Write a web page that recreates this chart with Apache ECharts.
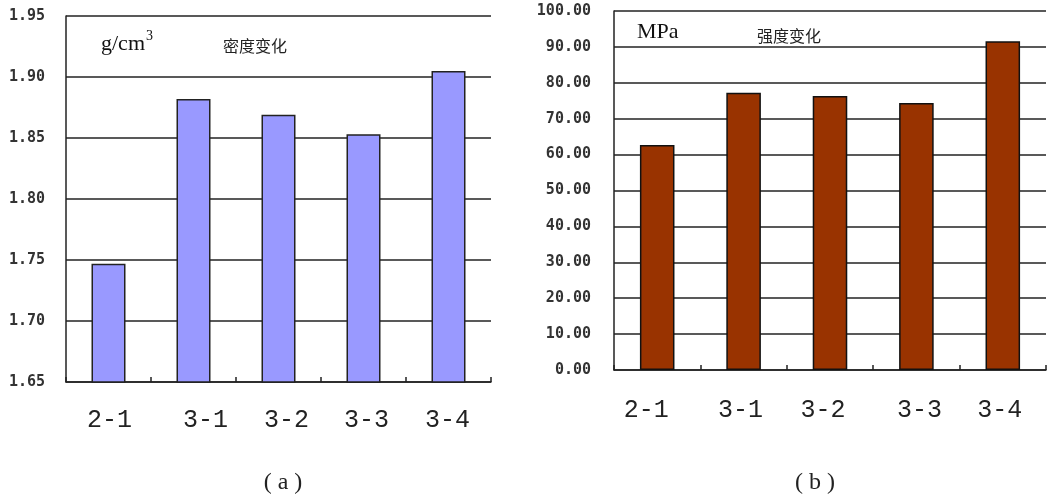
<!DOCTYPE html>
<html>
<head>
<meta charset="utf-8">
<script src="https://cdn.jsdelivr.net/npm/echarts@6/dist/echarts.min.js"></script>
<style>
  html, body { margin: 0; padding: 0; background: #fff; }
  #chart { width: 1051px; height: 497px; }
</style>
</head>
<body>
<div id="chart"></div>
<script>
// Sample groups shared by both panels
const categories = ['2-1', '3-1', '3-2', '3-3', '3-4'];

// (a) density, g/cm3
const densityValues = [1.747, 1.882, 1.869, 1.853, 1.905];
const densityTicks = { min: 1.65, max: 1.95, step: 0.05 };

// (b) compressive strength, MPa
const strengthValues = [62.7, 77.2, 76.3, 74.4, 91.6];
const strengthTicks = { min: 0, max: 100, step: 10 };

// Horizontal nudges (px) for the category labels of each panel
const labelShiftA = [1, 12, 8, 3, -1];
const labelShiftB = [-11, -3, -7, 3, -3];

function shiftedLabels(shifts) {
  const rich = {};
  shifts.forEach((s, i) => {
    rich['s' + i] = {
      fontFamily: '"Liberation Mono", "DejaVu Sans Mono", monospace',
      fontSize: 25,
      color: '#222',
      padding: s >= 0 ? [0, 0, 0, 2 * s] : [0, -2 * s, 0, 0]
    };
  });
  return {
    formatter: (v, idx) => '{s' + idx + '|' + v + '}',
    rich: rich
  };
}

const yLabelStyle = {
  fontFamily: '"DejaVu Sans Mono", "Liberation Mono", monospace',
  fontSize: 15,
  color: '#333',
  fontWeight: 'bold',
  padding: [3, 0, 0, 0]
};

const serif = '"Liberation Serif", "DejaVu Serif", serif';

const chart = echarts.init(document.getElementById('chart'), null, { renderer: 'canvas' });

const catAxis = (gridIndex, shifts, margin) => ({
  type: 'category',
  gridIndex: gridIndex,
  data: categories,
  axisLine: { show: true, lineStyle: { color: '#222', width: 1.5 } },
  axisTick: { show: true, inside: true, length: 5, lineStyle: { color: '#222', width: 1.5 } },
  splitLine: { show: false },
  axisLabel: Object.assign({ margin: margin, interval: 0 }, shiftedLabels(shifts))
});

const valAxis = (gridIndex, t, margin) => ({
  type: 'value',
  gridIndex: gridIndex,
  min: t.min,
  max: t.max,
  interval: t.step,
  axisLine: { show: true, lineStyle: { color: '#222', width: 1.5 } },
  axisTick: { show: false },
  splitLine: { show: true, lineStyle: { color: '#222', width: 1.5 } },
  axisLabel: Object.assign({ margin: margin, formatter: v => v.toFixed(2) }, yLabelStyle)
});

chart.setOption({
  animation: false,
  backgroundColor: '#ffffff',
  title: [
    {
      text: '{u|g/cm}{s|3}',
      left: 96, top: 24,
      textStyle: {
        fontWeight: 'normal',
        rich: {
          u: { fontFamily: serif, fontSize: 22, fontWeight: 'normal', color: '#111', verticalAlign: 'bottom' },
          s: { fontFamily: serif, fontSize: 14, fontWeight: 'normal', color: '#111', verticalAlign: 'top', padding: [0, 0, 12, 1] }
        }
      }
    },
    {
      text: '密度变化',
      left: 218, top: 33,
      textStyle: { fontFamily: '"Noto Sans CJK SC", sans-serif', fontSize: 16, fontWeight: 'normal', color: '#222' }
    },
    {
      text: 'MPa',
      left: 632, top: 16,
      textStyle: { fontFamily: serif, fontSize: 22, fontWeight: 'normal', color: '#111' }
    },
    {
      text: '强度变化',
      left: 752, top: 23,
      textStyle: { fontFamily: '"Noto Sans CJK SC", sans-serif', fontSize: 16, fontWeight: 'normal', color: '#222' }
    },
    {
      text: '( a )',
      left: 278, top: 466, textAlign: 'center',
      textStyle: { fontFamily: serif, fontSize: 24, fontWeight: 'normal', color: '#222' }
    },
    {
      text: '( b )',
      left: 810, top: 466, textAlign: 'center',
      textStyle: { fontFamily: serif, fontSize: 24, fontWeight: 'normal', color: '#222' }
    }
  ],
  grid: [
    { left: 66, top: 16, width: 425, height: 366, containLabel: false },
    { left: 614, top: 11, width: 432, height: 359, containLabel: false }
  ],
  xAxis: [
    catAxis(0, labelShiftA, 26),
    catAxis(1, labelShiftB, 28)
  ],
  yAxis: [
    valAxis(0, densityTicks, 21),
    valAxis(1, strengthTicks, 23)
  ],
  series: [
    {
      name: '密度',
      type: 'bar',
      xAxisIndex: 0, yAxisIndex: 0,
      data: densityValues,
      barWidth: '40%',
      itemStyle: { color: '#9999ff', borderColor: '#222', borderWidth: 1.5 }
    },
    {
      name: '强度',
      type: 'bar',
      xAxisIndex: 1, yAxisIndex: 1,
      data: strengthValues,
      barWidth: '40%',
      itemStyle: { color: '#993300', borderColor: '#111', borderWidth: 1.5 }
    }
  ]
});
</script>
</body>
</html>
